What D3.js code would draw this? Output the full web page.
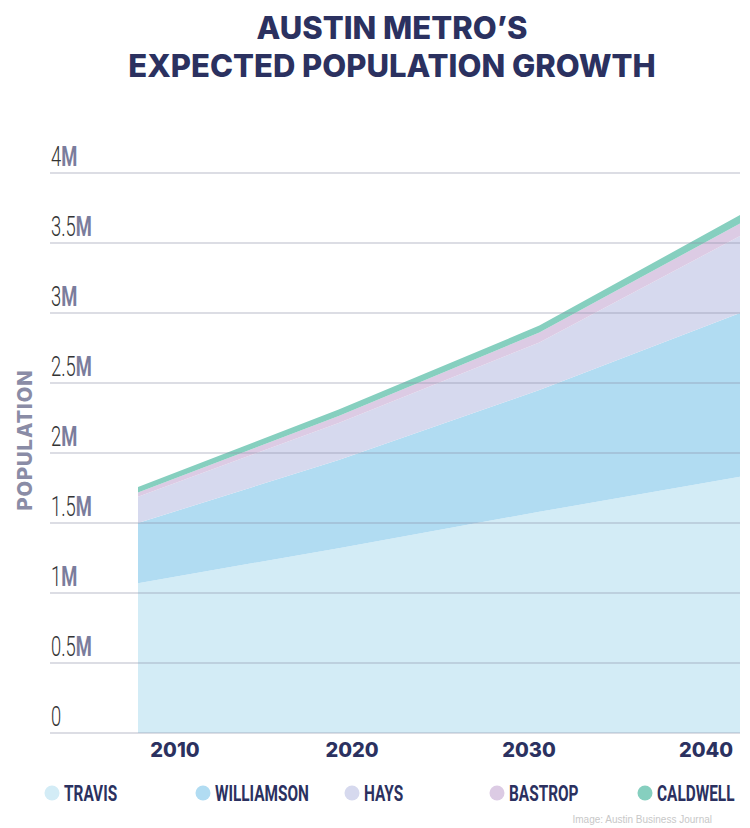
<!DOCTYPE html>
<html><head><meta charset="utf-8">
<script src="https://cdn.jsdelivr.net/npm/d3@7"></script>
<style>body{margin:0;background:#fff}</style>
</head><body><div id="chart"></div>
<script>
const years = [2010, 2020, 2030, 2040]
const travis = [1.07, 1.32, 1.58, 1.83]
const williamson = [0.43, 0.63, 0.87, 1.17]
const hays = [0.187, 0.265, 0.34, 0.55]
const bastrop = [0.03, 0.05, 0.07, 0.09]
const caldwell = [0.04, 0.045, 0.05, 0.06]
const counties = ['TRAVIS', 'WILLIAMSON', 'HAYS', 'BASTROP', 'CALDWELL']
const yTicks = [0, 0.5, 1, 1.5, 2, 2.5, 3, 3.5, 4]

const colors = ['#d3ecf6', '#b1dcf2', '#d6d9ee', '#dccbe4', '#86cfbf']
const navy = '#2b3160'
const width = 750, height = 828

const rows = years.map((y, i) => ({year: y, TRAVIS: travis[i], WILLIAMSON: williamson[i],
  HAYS: hays[i], BASTROP: bastrop[i], CALDWELL: caldwell[i]}))

const svg = d3.select('#chart').append('svg').attr('width', width).attr('height', height)

const x = d3.scaleLinear().domain([2010, 2040]).range([138, 740])
const xLabel = d3.scaleLinear().domain([2010, 2040]).range([175, 706])
const y = d3.scaleLinear().domain([0, 4]).range([733, 173])

// title
const title = ['AUSTIN METRO’S', 'EXPECTED POPULATION GROWTH']
svg.append('g').selectAll('text').data(title).join('text')
  .attr('x', 392).attr('y', (d, i) => 39 + i * 38).attr('text-anchor', 'middle')
  .attr('font-family', 'Inter, sans-serif').attr('font-weight', 800).attr('font-size', 31)
  .attr('fill', navy).text(d => d)

// areas
const stack = d3.stack().keys(counties)
const area = d3.area().x(d => x(d.data.year)).y0(d => y(d[0])).y1(d => y(d[1]))
svg.append('g').selectAll('path').data(stack(rows)).join('path')
  .attr('d', area).attr('fill', (d, i) => colors[i])

// grid
svg.append('g').selectAll('line').data(yTicks).join('line')
  .attr('x1', 50).attr('x2', 740).attr('y1', d => y(d)).attr('y2', d => y(d))
  .attr('stroke', '#8d8fa6').attr('stroke-opacity', 0.6).attr('stroke-width', 1.2)

// y tick labels (condensed by horizontal scaling)
const lbl = svg.append('g').selectAll('text').data(yTicks).join('text')
  .attr('transform', d => `translate(51,${y(d) - 7}) scale(0.68,1)`)
  .attr('font-family', 'Roboto, sans-serif')
  .attr('font-size', 27).attr('fill', '#333')
lbl.append('tspan').attr('font-weight', 300).text(d => d === 0 ? '0' : d)
lbl.append('tspan').attr('font-weight', 700).attr('fill', '#7b7d9c').text(d => d === 0 ? '' : 'M')

svg.append('text').attr('transform', 'translate(32,440) rotate(-90)').attr('text-anchor', 'middle')
  .attr('font-family', 'Inter, sans-serif').attr('font-weight', 800).attr('font-size', 20)
  .attr('fill', '#8a8ca6').attr('letter-spacing', 1).text('POPULATION')

// x labels
svg.append('g').selectAll('text').data(years).join('text')
  .attr('x', d => xLabel(d)).attr('y', 757).attr('text-anchor', 'middle')
  .attr('font-family', 'Inter, sans-serif').attr('font-weight', 800).attr('font-size', 20)
  .attr('fill', navy).text(d => d)

// legend
const legX = [52, 203, 352, 497, 645]
const leg = svg.append('g').selectAll('g').data(counties).join('g')
  .attr('transform', (d, i) => `translate(${legX[i]},793)`)
leg.append('circle').attr('r', 7.5).attr('fill', (d, i) => colors[i])
leg.append('text').attr('transform', 'translate(12,8) scale(0.7,1)')
  .attr('font-family', 'Roboto, sans-serif')
  .attr('font-weight', 700).attr('font-size', 22).attr('fill', navy).text(d => d)

svg.append('text').attr('x', 712).attr('y', 823).attr('text-anchor', 'end')
  .attr('font-family', 'Liberation Sans, sans-serif').attr('font-size', 10)
  .attr('fill', '#c8c8c8').text('Image: Austin Business Journal')
</script></body></html>
